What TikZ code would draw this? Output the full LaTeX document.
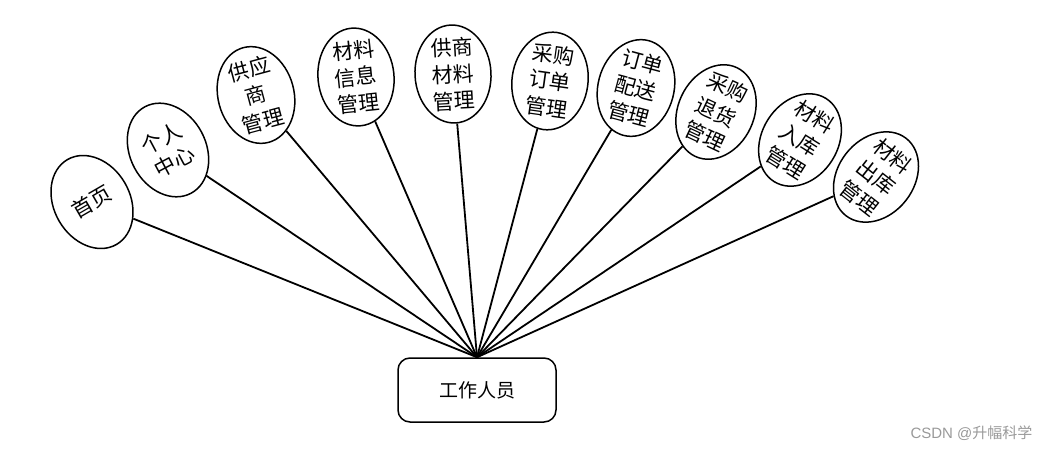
\documentclass[tikz,border=0pt]{standalone}
\usepackage{fontspec}
\newfontfamily\cjk{Noto Sans CJK SC}
\usetikzlibrary{shapes.geometric}
\begin{document}
\begin{tikzpicture}[x=1pt,y=-1pt,
  ell/.style={draw, line width=1.5pt, ellipse, fill=white, minimum width=76pt, minimum height=98pt, inner sep=-4pt, align=center, font=\cjk\fontsize{21}{27}\selectfont},
  hubbox/.style={draw, line width=1.5pt, rectangle, rounded corners=12pt, minimum width=158pt, minimum height=64pt, font=\cjk\fontsize{19}{21}\selectfont},
  conn/.style={line width=1.8pt},
  wm/.style={font=\fontspec{Liberation Sans}\fontsize{15}{17}\selectfont, text=black!40}]
\useasboundingbox (0,0) rectangle (1050,452);
\node[hubbox] (hub) at (477,390) {工作人员};
\node[ell, rotate=30] (e1) at (92,202) {首页};
\node[ell, rotate=28] (e2) at (168,150) {个人\\中心};
\node[ell, rotate=15] (e3) at (256,95) {供应\\商\\管理};
\node[ell, rotate=6] (e4) at (356,77) {材料\\信息\\管理};
\node[ell, rotate=3] (e5) at (453,74) {供商\\材料\\管理};
\node[ell, rotate=-8] (e6) at (550,81) {采购\\订单\\管理};
\node[ell, rotate=-15] (e7) at (636,88) {订单\\配送\\管理};
\node[ell, rotate=-25] (e8) at (716,112) {采购\\退货\\管理};
\node[ell, rotate=-32] (e9) at (800,140) {材料\\入库\\管理};
\node[ell, rotate=-38] (e10) at (876,177) {材料\\出库\\管理};
\foreach \e in {e1,e2,e3,e4,e5,e6,e7,e8,e9,e10}
  \draw[conn] (hub.north) -- (\e);
\node[wm, anchor=east] (wmk) at (1036,433) {CSDN @\cjk 升幅科学};
\end{tikzpicture}
\end{document}
